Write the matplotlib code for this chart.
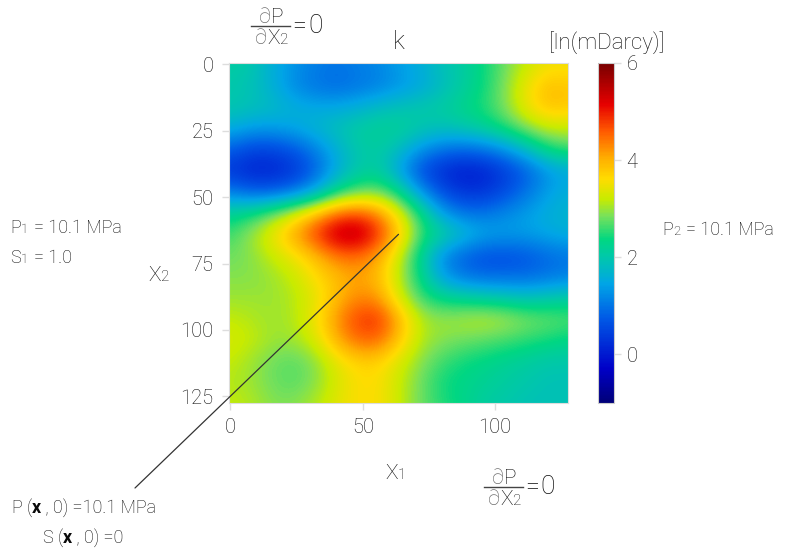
"""
Permeability field k with boundary conditions, redrawn from a reference figure.
"""
import numpy as np
import matplotlib
matplotlib.use("Agg")
import matplotlib.pyplot as plt
from matplotlib.colors import LinearSegmentedColormap

plt.rcParams["font.family"] = ["Roboto", "DejaVu Sans"]
plt.rcParams["font.weight"] = "light"

W, H = 790, 551
dark = "#0a0a0a"

grid_pos = [0, 8, 16, 24, 32, 40, 48, 56, 64, 72, 80, 88, 96, 104, 112, 120, 128]

# ln(k) in ln(mDarcy), one row per x2 position, columns along x1
k_rows = [
    [2.1, 2.0, 1.6, 1.3, 1.1, 1.0, 1.1, 1.2, 1.4, 1.6, 1.9, 2.1, 2.4, 2.8, 3.2, 3.5, 3.5],
    [2.0, 1.9, 1.6, 1.2, 1.0, 0.9, 1.0, 1.1, 1.3, 1.5, 1.8, 2.1, 2.4, 2.9, 3.5, 3.9, 3.8],
    [2.0, 1.9, 1.8, 1.6, 1.5, 1.5, 1.6, 1.8, 1.9, 2.0, 2.1, 2.3, 2.5, 2.9, 3.5, 3.9, 3.8],
    [1.6, 1.4, 1.4, 1.5, 1.7, 1.9, 2.1, 2.2, 2.2, 2.0, 1.9, 2.0, 2.2, 2.5, 2.9, 3.2, 3.2],
    [0.8, 0.5, 0.5, 0.7, 1.1, 1.6, 2.0, 2.1, 1.8, 1.3, 1.0, 0.9, 1.0, 1.3, 1.8, 2.4, 2.6],
    [0.3, 0.1, 0.1, 0.3, 0.8, 1.5, 2.0, 2.1, 1.4, 0.6, 0.2, 0.0, 0.1, 0.4, 0.8, 1.3, 1.5],
    [1.1, 0.8, 0.8, 1.0, 1.5, 2.3, 2.7, 2.8, 2.3, 1.3, 0.6, 0.3, 0.3, 0.6, 1.0, 1.4, 1.6],
    [2.2, 2.4, 2.8, 3.3, 3.9, 4.5, 4.7, 4.3, 3.4, 2.4, 1.4, 1.0, 1.0, 1.2, 1.4, 1.6, 1.7],
    [2.6, 3.0, 3.5, 4.1, 4.8, 5.5, 5.6, 4.9, 3.8, 2.6, 2.2, 1.8, 1.5, 1.4, 1.4, 1.5, 1.6],
    [2.8, 2.9, 3.2, 3.5, 3.9, 4.4, 4.5, 4.1, 3.2, 2.2, 1.2, 0.8, 0.6, 0.6, 0.7, 0.9, 1.0],
    [2.9, 2.9, 3.0, 3.2, 3.6, 3.9, 4.1, 3.9, 3.1, 2.3, 1.4, 1.0, 0.9, 0.9, 0.9, 1.0, 1.1],
    [3.0, 3.0, 3.0, 3.1, 3.4, 3.9, 4.3, 4.2, 3.3, 2.6, 2.3, 2.2, 2.1, 2.0, 1.9, 2.0, 2.1],
    [3.2, 3.1, 3.0, 3.1, 3.5, 4.2, 4.8, 4.9, 4.0, 3.1, 3.0, 3.1, 3.2, 3.1, 2.9, 2.8, 2.7],
    [3.3, 3.2, 3.0, 3.0, 3.3, 4.0, 4.5, 4.5, 3.8, 3.1, 2.9, 2.8, 2.7, 2.6, 2.5, 2.4, 2.3],
    [3.2, 3.0, 2.8, 2.7, 2.9, 3.4, 3.7, 3.7, 3.3, 2.9, 2.6, 2.4, 2.3, 2.2, 2.1, 2.0, 2.0],
    [3.1, 3.0, 2.8, 2.7, 2.9, 3.3, 3.6, 3.6, 3.2, 2.8, 2.4, 2.3, 2.2, 2.1, 2.0, 1.9, 1.9],
    [3.2, 3.1, 2.9, 2.9, 3.1, 3.4, 3.6, 3.6, 3.2, 2.8, 2.5, 2.3, 2.1, 2.0, 1.9, 1.9, 1.9],
]

x_ticks = [0, 50, 100]
y_ticks = [0, 25, 50, 75, 100, 125]
cbar_ticks = [0, 2, 4, 6]
k_min, k_max = -1, 6

# jet-like scale with a greener middle
anchors = [
    (0.00, (0, 0, 120)),
    (0.10, (0, 0, 200)),
    (0.25, (0, 90, 230)),
    (0.35, (0, 165, 230)),
    (0.43, (0, 200, 170)),
    (0.48, (0, 215, 130)),
    (0.55, (120, 225, 90)),
    (0.60, (200, 235, 0)),
    (0.66, (255, 220, 0)),
    (0.72, (255, 175, 0)),
    (0.80, (255, 90, 0)),
    (0.88, (230, 0, 0)),
    (1.00, (120, 0, 0)),
]
cmap = LinearSegmentedColormap.from_list(
    "kjet", [(p, tuple(c / 255 for c in rgb)) for p, rgb in anchors])

k = np.array(k_rows)
step = grid_pos[1] - grid_pos[0]
ext = (grid_pos[0] - step / 2, grid_pos[-1] + step / 2,
       grid_pos[-1] + step / 2, grid_pos[0] - step / 2)

fig = plt.figure(figsize=(W / 100, H / 100), dpi=100)
ax = fig.add_axes([229 / W, 1 - 403 / H, 339 / W, 340 / H])
cax = fig.add_axes([598 / W, 1 - 403 / H, 16 / W, 340 / H])

im = ax.imshow(k, cmap=cmap, vmin=k_min, vmax=k_max, extent=ext,
               interpolation="bicubic", aspect="auto")
ax.set_xlim(-0.5, 127.5)
ax.set_ylim(127.5, -0.5)
ax.set_xticks(x_ticks)
ax.set_yticks(y_ticks)
ax.tick_params(colors="#dddddd", labelcolor=dark, labelsize=14.5,
               length=5, width=1, pad=6)
for s in ax.spines.values():
    s.set_color("#dddddd")

ax.set_title("k", fontsize=18, color=dark, fontweight="light", pad=10)

cb = fig.colorbar(im, cax=cax, ticks=cbar_ticks)
cb.outline.set_edgecolor("#cccccc")
cb.ax.tick_params(colors="#dddddd", labelcolor=dark, labelsize=14.5,
                  length=5, width=1, pad=4)
fig.text(607 / W, 1 - 43 / H, "[ln(mDarcy)]", fontsize=16, color=dark,
         ha="center", va="center")

renderer = fig.canvas.get_renderer()


def chain(x, y, parts, color=dark):
    """Place text pieces one after another on a common baseline (pixels, top-left origin)."""
    px = x
    for s, size, kw in parts:
        t = fig.text(px / W, 1 - y / H, s, fontsize=size, color=kw.get("color", color),
                     fontweight=kw.get("weight", "light"), ha="left", va="baseline")
        px = t.get_window_extent(renderer).x1 + kw.get("gap", 0)
    return px


big, small = 13, 9.5
# axis labels
chain(148, 281, [("X", 15, {}), ("2", 11, {})])
chain(385, 479, [("X", 15, {}), ("1", 11, {})])


def dpdx(x, y):
    # fraction dP/dX2 = 0, y is the fraction bar in pixels
    grey = "#666666"
    top = chain(x + 8, y - 3, [("\u2202", 15, {"color": grey}), ("P", 15, {})])
    bot = chain(x + 4, y + 18, [("\u2202", 15, {"color": grey}), ("X", 15, {}), ("2", 11, {})])
    right = max(top, bot)
    fig.add_artist(plt.Line2D([x / W, (right + 2) / W], [1 - y / H, 1 - y / H],
                              color="#444444", lw=1))
    chain(right + 4, y + 7, [("=", 18, {"gap": 2}), ("0", 19, {})])


dpdx(251, 26)
dpdx(484, 487)

chain(10, 233, [("P", big, {}), ("1", small, {"gap": 6}), ("= 10.1 MPa", big, {})])
chain(10, 263, [("S", big, {}), ("1", small, {"gap": 6}), ("= 1.0", big, {})])
chain(662, 235, [("P", big, {}), ("2", small, {"gap": 6}), ("= 10.1 MPa", big, {})])

chain(12, 513, [("P (", big, {}), ("x", big, {"weight": "bold"}),
                (" , 0) =10.1 MPa", big, {})])
chain(43, 543, [("S (", big, {}), ("x", big, {"weight": "bold"}),
                (" , 0) =0", big, {})])

# leader line from the bottom-boundary note into the field
ax.annotate("", xy=(63.5, 64), xycoords="data",
            xytext=(135 / W, 1 - 488 / H), textcoords="figure fraction",
            arrowprops=dict(arrowstyle="-", lw=0.9, color="#333333",
                            shrinkA=0, shrinkB=0))

fig.savefig("out.png", dpi=100)
